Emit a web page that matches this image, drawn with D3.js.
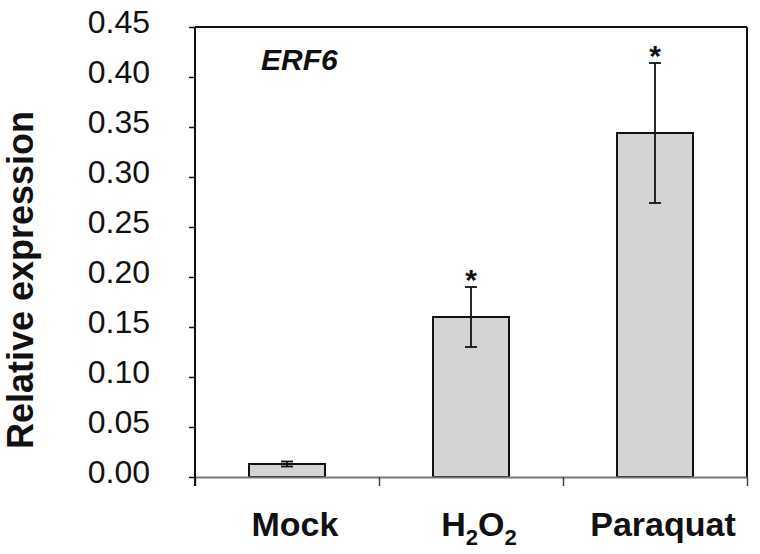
<!DOCTYPE html>
<html>
<head>
<meta charset="utf-8">
<script src="https://cdn.jsdelivr.net/npm/d3@7"></script>
<style>
  html, body { margin: 0; padding: 0; background: #fff; }
  svg { display: block; }
</style>
</head>
<body>
<svg id="chart" width="760" height="554"></svg>
<script>
// ---- data ----
const categories = ["Mock", "H2O2", "Paraquat"];
const values = [0.013, 0.160, 0.344];
const errors = [0.0025, 0.030, 0.070];
const significant = [false, true, true];
const yTicks = [0, 0.05, 0.10, 0.15, 0.20, 0.25, 0.30, 0.35, 0.40, 0.45];
const geneLabel = "ERF6";
const yTitle = "Relative expression";

// ---- layout ----
const svg = d3.select("#chart");
const plotL = 195, plotR = 747, plotT = 27, plotB = 477;

const y = d3.scaleLinear().domain([0, 0.45]).range([plotB, plotT]);
const x = d3.scaleBand().domain(categories).range([plotL, plotR])
  .paddingInner(0.587).paddingOuter(0.2935);
const xb = d3.scaleLinear().domain([0, categories.length]).range([plotL, plotR]);

// frame top and right
svg.append("line").attr("x1", plotL).attr("x2", plotR).attr("y1", plotT).attr("y2", plotT)
  .attr("stroke", "#111").attr("stroke-width", 2);
svg.append("line").attr("x1", plotR).attr("x2", plotR).attr("y1", plotT).attr("y2", plotB)
  .attr("stroke", "#111").attr("stroke-width", 2);

// bars
const data = categories.map((c, i) => ({ c, v: values[i], e: errors[i], s: significant[i] }));
svg.append("g").selectAll("rect").data(data).join("rect")
  .attr("x", d => x(d.c)).attr("width", x.bandwidth())
  .attr("y", d => y(d.v)).attr("height", d => y(0) - y(d.v))
  .attr("fill", "#d4d4d4").attr("stroke", "#111").attr("stroke-width", 2);

// x axis (boundary ticks)
const gx = svg.append("g").attr("transform", `translate(0,${plotB})`)
  .call(d3.axisBottom(xb).tickValues(d3.range(categories.length + 1)).tickFormat("").tickSize(9).tickSizeOuter(0));
gx.select(".domain").attr("stroke", "#777").attr("stroke-width", 2);
gx.selectAll(".tick line").attr("stroke", "#444").attr("stroke-width", 1.5);

// y axis
const gy = svg.append("g").attr("transform", `translate(${plotL},0)`)
  .call(d3.axisLeft(y).tickValues(yTicks).tickFormat(d3.format(".2f")).tickSize(6).tickPadding(39).tickSizeOuter(0));
gy.select(".domain").attr("stroke", "#111").attr("stroke-width", 2)
  .attr("d", `M0,${plotT}V${plotB + 9}`);
gy.selectAll(".tick line").attr("stroke", "#111").attr("stroke-width", 1.5);
gy.selectAll(".tick text").attr("y", -5)
  .attr("font-family", "Liberation Sans, Arial, sans-serif").attr("font-size", 32)
  .attr("fill", "#111");

// error bars
const eb = svg.append("g").attr("stroke", "#111").attr("stroke-width", 1.8);
data.forEach(d => {
  const cx = x(d.c) + x.bandwidth() / 2;
  eb.append("line").attr("x1", cx).attr("x2", cx).attr("y1", y(d.v - d.e)).attr("y2", y(d.v + d.e));
  eb.append("line").attr("x1", cx - 6).attr("x2", cx + 6).attr("y1", y(d.v + d.e)).attr("y2", y(d.v + d.e));
  eb.append("line").attr("x1", cx - 6).attr("x2", cx + 6).attr("y1", y(d.v - d.e)).attr("y2", y(d.v - d.e));
});

// significance stars
svg.append("g").selectAll("text").data(data.filter(d => d.s)).join("text")
  .attr("x", d => x(d.c) + x.bandwidth() / 2)
  .attr("y", d => y(d.v + d.e) + 3)
  .attr("text-anchor", "middle")
  .attr("font-family", "Liberation Sans, Arial, sans-serif").attr("font-size", 30)
  .attr("font-weight", "bold").attr("fill", "#111")
  .text("*");

// x category labels (digits after letters rendered as subscripts)
const xl = svg.append("g");
categories.forEach(c => {
  const t = xl.append("text")
    .attr("x", x(c) + x.bandwidth() / 2 + 8).attr("y", 536)
    .attr("text-anchor", "middle")
    .attr("font-family", "Liberation Sans, Arial, sans-serif").attr("font-weight", "bold")
    .attr("font-size", 34).attr("fill", "#111");
  const parts = c.match(/[A-Za-z]+|\d+/g);
  let sub = false;
  parts.forEach(p => {
    const isSub = /^\d+$/.test(p);
    const ts = t.append("tspan").text(p);
    if (isSub) { ts.attr("font-size", 22).attr("dy", sub ? 0 : 9); sub = true; }
    else { if (sub) ts.attr("dy", -9); sub = false; }
  });
});

// gene label
svg.append("text").attr("x", 261).attr("y", 70)
  .attr("font-family", "Liberation Sans, Arial, sans-serif").attr("font-weight", "bold")
  .attr("font-style", "italic").attr("font-size", 30).attr("fill", "#111")
  .text(geneLabel);

// y title
svg.append("text").attr("transform", "translate(33,280) rotate(-90)")
  .attr("text-anchor", "middle")
  .attr("font-family", "Liberation Sans, Arial, sans-serif").attr("font-weight", "bold")
  .attr("font-size", 36).attr("fill", "#111")
  .text(yTitle);
</script>
</body>
</html>
